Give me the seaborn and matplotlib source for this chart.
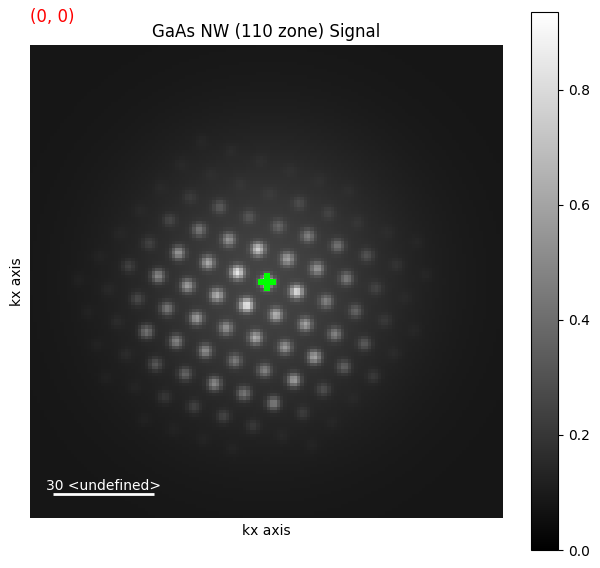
import numpy as np
import seaborn as sns
import matplotlib.pyplot as plt

n_cells = 140

# diffraction spots: peak value at c + h*a + k*b
origin = [70.14, 70.14]
vec_a = [8.73, 2.87]
vec_b = [6.07, -6.81]
h_index = [-5, -4, -3, -2, -1, 0, 1, 2, 3, 4, 5]
k_index = [4, 3, 2, 1, 0, -1, -2, -3, -4, -5, -6]
peaks = [
    [.12, .13, .13, .15, .15, .12, 0, 0, 0, 0, 0],
    [.13, .15, .20, .22, .28, .25, .20, .15, .12, 0, 0],
    [.15, .22, .33, .32, .38, .47, .42, .30, .19, .12, 0],
    [.14, .26, .44, .55, .75, .60, .56, .45, .25, .14, 0],
    [.14, .24, .55, .62, .85, .80, .84, .48, .37, .21, .14],
    [.13, .24, .50, .58, .66, .88, .66, .60, .48, .33, .16],
    [.11, .15, .27, .44, .58, .55, .64, .56, .60, .36, .21],
    [0, .11, .16, .42, .48, .52, .45, .47, .58, .29, .15],
    [0, 0, .11, .16, .32, .37, .50, .44, .46, .22, .13],
    [0, 0, 0, .10, .12, .20, .24, .25, .21, .15, .11],
    [0, 0, 0, 0, 0, .12, .12, .12, .12, 0, 0],
]
spot_sigma = 1.35
background = 0.08
halo_peak = 0.17
halo_sigma = 28

yy, xx = np.mgrid[0:n_cells, 0:n_cells] + 0.5


def halo(x, y):
    r2 = (x - origin[0])**2 + (y - origin[1])**2
    return background + halo_peak * np.exp(-r2 / (2 * halo_sigma**2))


img = halo(xx, yy)
for k, row in zip(k_index, peaks):
    for h, p in zip(h_index, row):
        if p == 0:
            continue
        sx = origin[0] + h * vec_a[0] + k * vec_b[0]
        sy = origin[1] + h * vec_a[1] + k * vec_b[1]
        amp = max(p - halo(sx, sy), 0.02)
        img += amp * np.exp(-((xx - sx)**2 + (yy - sy)**2) / (2 * spot_sigma**2))

fig = plt.figure(figsize=(6, 5.68), dpi=100)
ax = fig.add_axes([30 / 600, 1 - 518 / 568, 473 / 600, 473 / 568])
cax = fig.add_axes([531 / 600, 1 - 550 / 568, 27 / 600, 538 / 568])

sns.heatmap(img, ax=ax, cbar_ax=cax, cmap='gray', vmin=0, vmax=0.935,
            xticklabels=False, yticklabels=False)

ax.set_title('GaAs NW (110 zone) Signal', fontsize=12, pad=6)
ax.set_xlabel('kx axis', fontsize=10)
ax.set_ylabel('kx axis', fontsize=10)
ax.tick_params(length=0)

# selected position
ax.scatter([origin[0]], [origin[1]], marker='P', s=150, color='#00ff00', linewidths=0)

ax.plot([6.8, 36.8], [132.9, 132.9], color='white', lw=2, solid_capstyle='butt')
ax.text(21.8, 132.6, '30 <undefined>', color='white', fontsize=10, ha='center', va='bottom')
fig.text(30 / 600, 1 - 17 / 568, '(0, 0)', color='red', fontsize=12, va='center')

cbar = ax.collections[0].colorbar
cbar.set_ticks([0, 0.2, 0.4, 0.6, 0.8])
cbar.ax.tick_params(labelsize=10, length=3.5, width=0.8)
cbar.outline.set_visible(True)
cbar.outline.set_edgecolor('black')
cbar.outline.set_linewidth(0.8)

fig.savefig('out.png', dpi=100)
